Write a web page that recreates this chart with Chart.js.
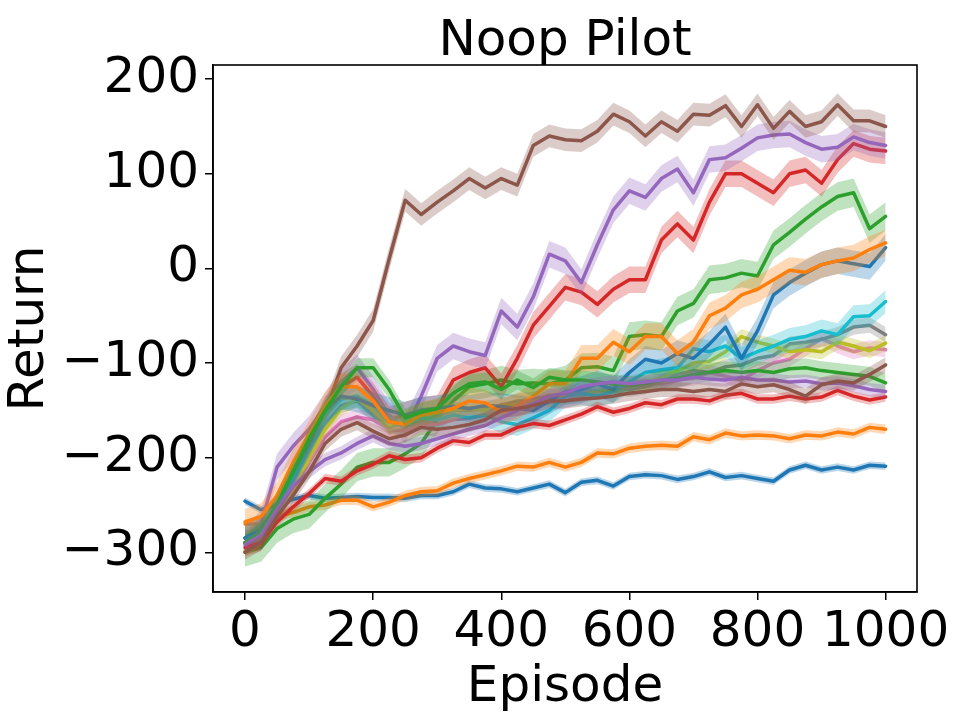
<!DOCTYPE html>
<html>
<head>
<meta charset="utf-8">
<title>Noop Pilot</title>
<script src="https://cdn.jsdelivr.net/npm/chart.js@4.4.0/dist/chart.umd.min.js"></script>
<style>
  html, body { margin: 0; padding: 0; background: #fff; }
  #wrap { width: 968px; height: 726px; }
</style>
</head>
<body>
<div id="wrap"><canvas id="chart" width="968" height="726"></canvas></div>
<script>
// episodes sampled every 25
const episodes = [0, 25, 50, 75, 100, 125, 150, 175, 200, 225, 250, 275, 300, 325, 350, 375, 400, 425, 450, 475, 500,
  525, 550, 575, 600, 625, 650, 675, 700, 725, 750, 775, 800, 825, 850, 875, 900, 925, 950, 975, 1000];

// mean return of each run
const blueLow = [-246, -255, -250, -244, -240, -243, -242, -241, -242, -242, -243, -240, -240, -236, -228, -232, -233, -236, -232, -228, -237,
  -226, -224, -230, -220, -218, -219, -223, -220, -215, -221, -219, -222, -225, -213, -208, -213, -210, -213, -208, -209];
const orangeLow = [-270, -270, -262, -258, -252, -250, -245, -245, -252, -247, -240, -236, -235, -227, -222, -218, -214, -209, -210, -205, -210,
  -205, -195, -196, -190, -188, -187, -188, -178, -181, -174, -177, -176, -177, -180, -176, -177, -173, -175, -168, -170];
const greenRise = [-300, -295, -275, -265, -260, -243, -228, -210, -205, -205, -196, -185, -160, -140, -125, -122, -118, -122, -121, -122, -118,
  -105, -104, -108, -72, -70, -72, -45, -37, -12, -10, -5, -8, 25, 38, 52, 65, 76, 80, 42, 55];
const redRise = [-290, -285, -250, -220, -190, -150, -125, -115, -135, -160, -155, -150, -148, -118, -110, -105, -125, -95, -60, -40, -20,
  -25, -38, -22, -12, -12, 30, 47, 30, 70, 100, 100, 90, 80, 100, 104, 90, 115, 132, 126, 124];
const purpleRise = [-285, -270, -210, -188, -170, -145, -120, -105, -128, -155, -170, -135, -95, -82, -88, -92, -45, -62, -30, 15, 8,
  -15, 25, 62, 82, 75, 95, 105, 80, 115, 117, 127, 138, 141, 142, 133, 126, 128, 139, 133, 130];
const brownTop = [-290, -275, -250, -222, -190, -153, -105, -82, -55, 10, 72, 57, 70, 82, 95, 85, 95, 88, 130, 140, 136,
  135, 145, 163, 155, 140, 155, 145, 163, 162, 172, 150, 173, 148, 166, 150, 155, 173, 156, 156, 150];
const pinkMid = [-290, -282, -262, -232, -205, -178, -162, -157, -160, -170, -172, -165, -165, -160, -158, -155, -150, -148, -145, -142, -140,
  -135, -130, -128, -121, -118, -122, -118, -116, -110, -114, -118, -108, -100, -96, -85, -74, -82, -88, -84, -86];
const grayMid = [-290, -280, -255, -225, -190, -165, -145, -140, -155, -168, -162, -158, -155, -150, -150, -148, -145, -140, -138, -135, -135,
  -128, -130, -125, -128, -125, -120, -112, -108, -110, -104, -102, -95, -92, -80, -78, -75, -70, -62, -60, -70];
const oliveMid = [-298, -285, -262, -235, -200, -170, -148, -138, -150, -165, -162, -158, -152, -150, -148, -150, -145, -143, -140, -138, -135,
  -132, -130, -128, -125, -122, -115, -108, -100, -98, -88, -72, -78, -82, -88, -86, -88, -78, -82, -87, -79];
const cyanMid = [-285, -278, -255, -220, -185, -155, -138, -135, -145, -162, -165, -158, -160, -155, -158, -155, -162, -165, -158, -150, -135,
  -132, -135, -130, -120, -110, -107, -105, -85, -88, -82, -95, -88, -82, -75, -72, -66, -70, -51, -50, -35];
const blueRise = [-285, -275, -250, -215, -185, -150, -135, -138, -145, -150, -155, -150, -148, -146, -148, -145, -146, -148, -150, -140, -130,
  -128, -122, -128, -110, -96, -100, -90, -95, -80, -62, -95, -66, -28, -15, -5, 4, 8, 5, 2, 22];
const orangeRise = [-268, -262, -240, -205, -175, -145, -125, -125, -140, -162, -165, -155, -152, -148, -140, -142, -152, -146, -135, -122, -122,
  -95, -95, -78, -88, -72, -72, -90, -78, -50, -42, -28, -22, -12, -2, -4, 4, 8, 11, 20, 27];
const greenMid = [-290, -278, -250, -215, -180, -150, -125, -105, -105, -128, -158, -152, -148, -132, -122, -120, -128, -118, -126, -115, -118,
  -118, -120, -122, -124, -122, -118, -116, -112, -110, -108, -110, -108, -110, -106, -105, -108, -110, -112, -114, -121];
const redLow = [-295, -290, -268, -252, -238, -222, -225, -214, -207, -198, -202, -200, -190, -182, -184, -176, -176, -168, -164, -166, -160,
  -154, -146, -152, -148, -142, -144, -138, -138, -140, -134, -132, -138, -138, -135, -138, -136, -129, -135, -139, -136];
const purpleLow = [-292, -282, -255, -230, -215, -202, -195, -185, -177, -185, -188, -185, -180, -175, -170, -166, -158, -150, -143, -135, -132,
  -125, -122, -120, -122, -120, -118, -118, -115, -117, -118, -115, -118, -118, -120, -119, -122, -121, -124, -128, -130];
const brownMid = [-300, -290, -262, -240, -215, -185, -170, -163, -172, -180, -176, -168, -170, -168, -165, -160, -150, -148, -145, -140, -140,
  -138, -137, -135, -132, -130, -128, -128, -130, -128, -130, -122, -125, -123, -128, -135, -123, -119, -121, -112, -102];

// half width of the shaded band of each run, same order as runs below
const spreads = [4, 5, 15, 14, 14, 12, 8, 8, 8, 12, 14, 14, 10, 5, 7, 8];

const xTicks = [0, 200, 400, 600, 800, 1000];
const yTicks = [-300, -200, -100, 0, 100, 200];

const runs = [blueLow, orangeLow, greenRise, redRise, purpleRise, brownTop, pinkMid, grayMid, oliveMid, cyanMid,
  blueRise, orangeRise, greenMid, redLow, purpleLow, brownMid];

// matplotlib tab10 cycle
const tab10 = [
  [31, 119, 180], [255, 127, 14], [44, 160, 44], [214, 39, 40], [148, 103, 189],
  [140, 86, 75], [227, 119, 194], [127, 127, 127], [188, 189, 34], [23, 190, 207]
];

const FONT = "'DejaVu Sans', 'Liberation Sans', sans-serif";
const TITLE = "Noop Pilot";

let datasets = [];
let total = runs.length * 3;
runs.forEach((vals, i) => {
  let c = tab10[i % 10];
  let line = "rgb(" + c.join(",") + ")";
  let band = "rgba(" + c.join(",") + ",0.3)";
  let s = spreads[i];
  let k = datasets.length;
  datasets.push({
    data: episodes.map((x, j) => ({ x: x, y: vals[j] + s })),
    borderWidth: 0, pointRadius: 0, fill: false, order: total - k,
  });
  datasets.push({
    data: episodes.map((x, j) => ({ x: x, y: vals[j] - s })),
    borderWidth: 0, pointRadius: 0, fill: "-1", backgroundColor: band, order: total - k - 1,
  });
  datasets.push({
    data: episodes.map((x, j) => ({ x: x, y: vals[j] })),
    borderColor: line, borderWidth: 3.5, pointRadius: 0, fill: false,
    borderJoinStyle: "round", borderCapStyle: "round", order: total - k - 2,
  });
});

// box around the axes and the title centred over them, like matplotlib
const frame = {
  id: "frame",
  afterDraw(chart) {
    let a = chart.chartArea;
    let c = chart.ctx;
    c.save();
    c.strokeStyle = "#000";
    c.lineWidth = 1.6;
    c.strokeRect(a.left, a.top, a.right - a.left, a.bottom - a.top);
    c.fillStyle = "#000";
    c.font = "50px " + FONT;
    c.textAlign = "center";
    c.textBaseline = "alphabetic";
    c.fillText(TITLE, (a.left + a.right) / 2, 55);
    c.restore();
  },
};

const fmt = (v) => (v < 0 ? "\u2212" + Math.abs(v) : String(v));

new Chart(document.getElementById("chart").getContext("2d"), {
  type: "line",
  data: { datasets: datasets },
  options: {
    responsive: false,
    animation: false,
    devicePixelRatio: 1,
    layout: { padding: { left: 0, right: 51, top: 65, bottom: 0 } },
    plugins: {
      legend: { display: false },
      tooltip: { enabled: false },
      filler: { drawTime: "beforeDatasetDraw" },
      title: { display: false },
    },
    scales: {
      x: {
        type: "linear",
        min: -50,
        max: 1049,
        afterBuildTicks: (scale) => { scale.ticks = xTicks.map((v) => ({ value: v })); },
        afterFit: (scale) => { scale.height = 134; },
        ticks: { color: "#000", font: { family: FONT, size: 50 }, padding: 3, maxRotation: 0, callback: fmt },
        grid: { drawOnChartArea: false, drawTicks: true, tickLength: 8, color: "#000", lineWidth: 1.5 },
        border: { display: true, color: "#000", width: 1.6 },
        title: { display: true, text: "Episode", color: "#000", font: { family: FONT, size: 50 }, padding: { top: 0, bottom: 8 } },
      },
      y: {
        min: -342,
        max: 215,
        afterBuildTicks: (scale) => { scale.ticks = yTicks.map((v) => ({ value: v })); },
        afterFit: (scale) => { scale.width = 213; },
        ticks: { color: "#000", font: { family: FONT, size: 50 }, padding: 6, callback: fmt },
        grid: { drawOnChartArea: false, drawTicks: true, tickLength: 8, color: "#000", lineWidth: 1.5 },
        border: { display: true, color: "#000", width: 1.6 },
        title: { display: true, text: "Return", color: "#000", font: { family: FONT, size: 50 }, padding: { top: 0, bottom: 0 } },
      },
    },
  },
  plugins: [frame],
});
</script>
</body>
</html>
